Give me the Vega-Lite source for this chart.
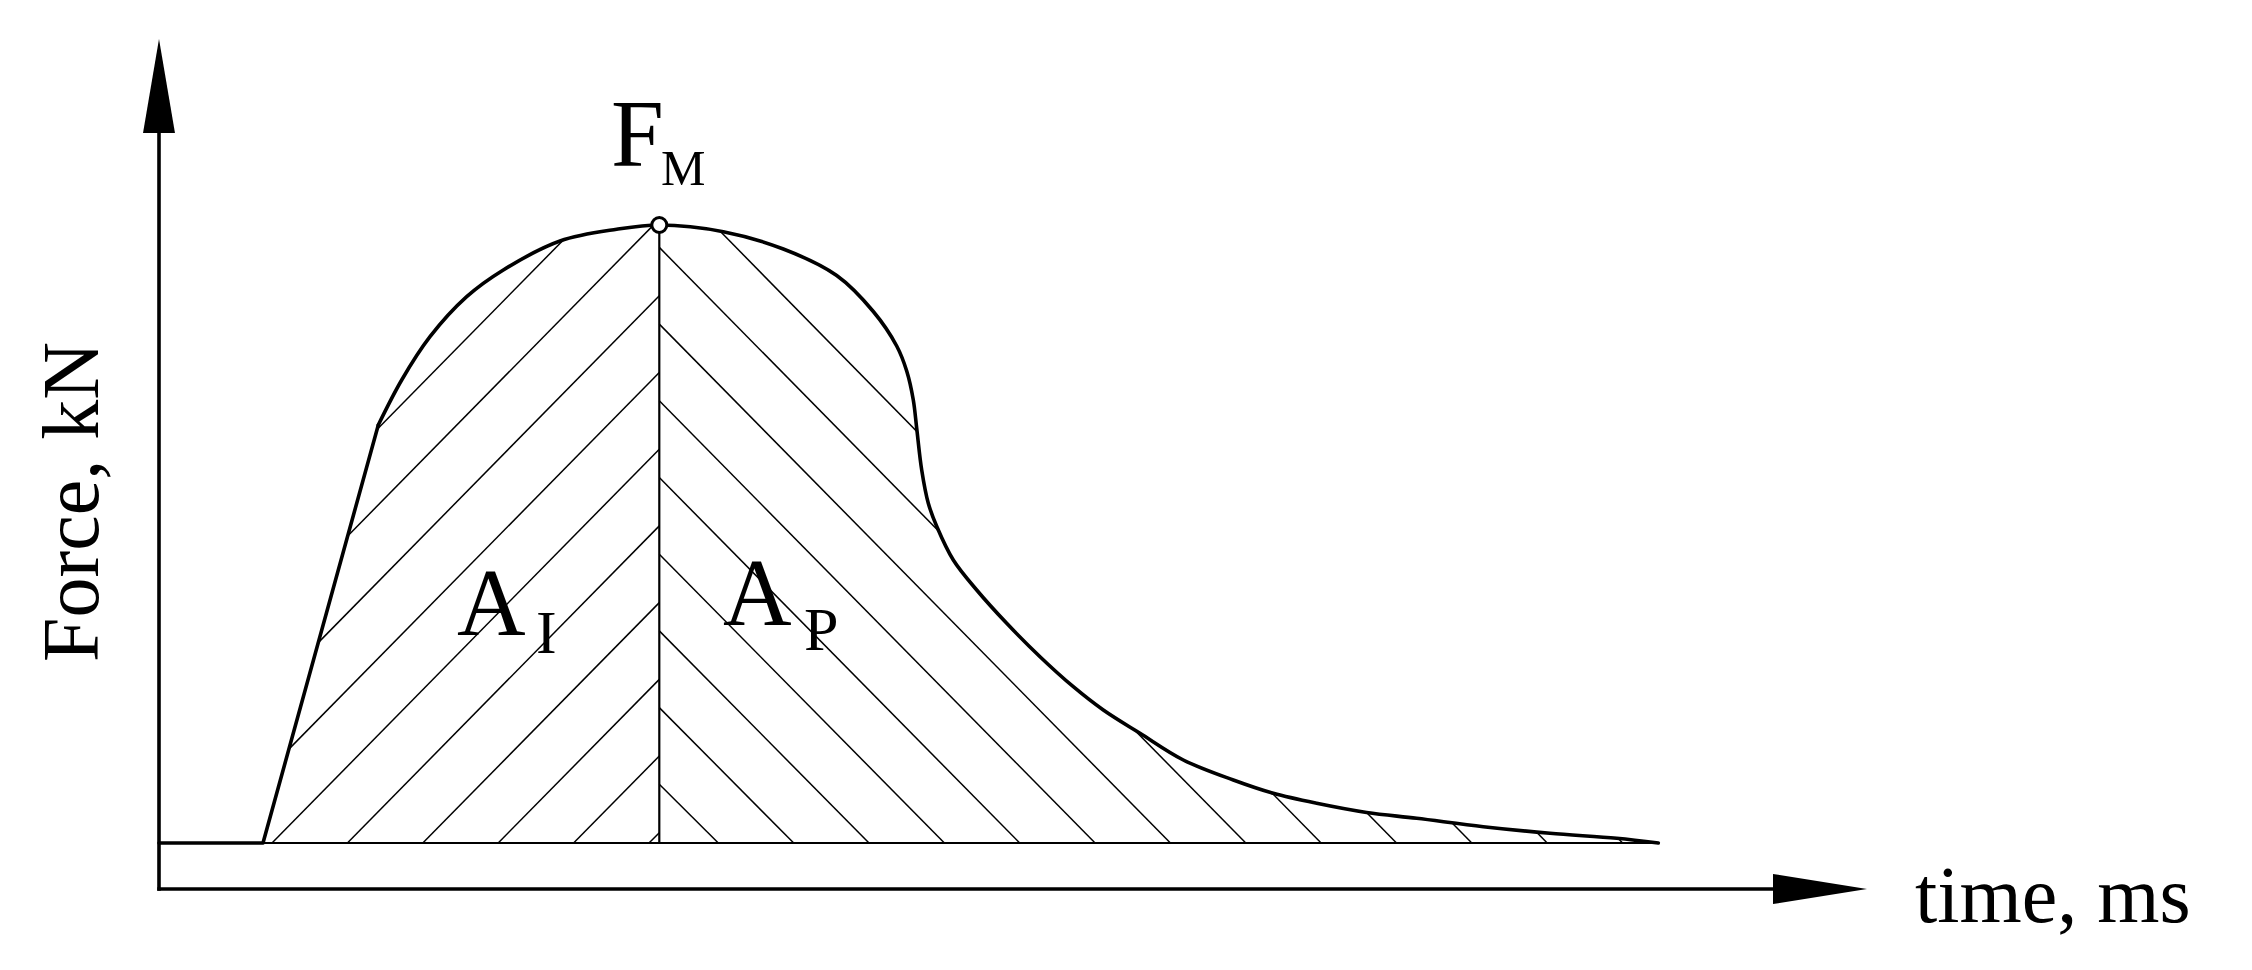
{
  "$schema": "https://vega.github.io/schema/vega-lite/v6.json",
  "width": 2252,
  "height": 970,
  "autosize": {"type": "none"},
  "padding": 0,
  "background": "white",
  "config": {"view": {"stroke": null}, "axis": {"disable": true}},
  "datasets": {
    "curveRise": [
      {"t": 0, "F": 4.6}, {"t": 10.4, "F": 4.6}, {"t": 21.93, "F": 46.4}
    ],
    "curveArc": [
      {"t": 21.93, "F": 46.4}, {"t": 24.27, "F": 50.9}, {"t": 27.1, "F": 55.23},
      {"t": 30.77, "F": 59.23}, {"t": 34.43, "F": 61.9}, {"t": 40.1, "F": 64.8}, {"t": 45.77, "F": 65.97},
      {"t": 50.03, "F": 66.4}, {"t": 56.43, "F": 65.73}, {"t": 62.43, "F": 64.0}, {"t": 67.77, "F": 61.35},
      {"t": 71.43, "F": 57.75}, {"t": 73.77, "F": 54.3}, {"t": 74.77, "F": 51.8}, {"t": 75.43, "F": 48.9},
      {"t": 75.77, "F": 46.07}, {"t": 76.27, "F": 41.9}, {"t": 76.93, "F": 38.57}, {"t": 77.8, "F": 36.2},
      {"t": 79.43, "F": 32.9}, {"t": 81.77, "F": 29.9}, {"t": 84.77, "F": 26.57}, {"t": 88.1, "F": 23.23},
      {"t": 91.43, "F": 20.23}, {"t": 94.43, "F": 17.9}, {"t": 98.1, "F": 15.57}, {"t": 102.43, "F": 12.9},
      {"t": 107.43, "F": 10.9}, {"t": 111.43, "F": 9.57}, {"t": 115.77, "F": 8.57}, {"t": 120.77, "F": 7.65},
      {"t": 125.77, "F": 7.07}, {"t": 132.43, "F": 6.23}, {"t": 139.1, "F": 5.57}, {"t": 145.77, "F": 5.07},
      {"t": 149.93, "F": 4.6}
    ],
    "hatch": [
      {"t1": 49.0, "F1": 4.6, "t2": 50.03, "F2": 5.63},
      {"t1": 41.46, "F1": 4.6, "t2": 50.03, "F2": 13.3},
      {"t1": 33.92, "F1": 4.6, "t2": 50.03, "F2": 20.96},
      {"t1": 26.38, "F1": 4.6, "t2": 50.03, "F2": 28.64},
      {"t1": 18.84, "F1": 4.6, "t2": 50.03, "F2": 36.31},
      {"t1": 11.3, "F1": 4.6, "t2": 50.03, "F2": 43.98},
      {"t1": 12.99, "F1": 13.99, "t2": 50.03, "F2": 51.65},
      {"t1": 15.93, "F1": 24.64, "t2": 50.03, "F2": 59.32},
      {"t1": 18.87, "F1": 35.3, "t2": 50.03, "F2": 66.99},
      {"t1": 21.8, "F1": 45.95, "t2": 50.03, "F2": 74.66},
      {"t1": 50.03, "F1": 10.47, "t2": 55.93, "F2": 4.6},
      {"t1": 50.03, "F1": 18.14, "t2": 63.47, "F2": 4.6},
      {"t1": 50.03, "F1": 25.81, "t2": 71.0, "F2": 4.6},
      {"t1": 50.03, "F1": 33.48, "t2": 78.54, "F2": 4.6},
      {"t1": 50.03, "F1": 41.15, "t2": 86.07, "F2": 4.6},
      {"t1": 50.03, "F1": 48.82, "t2": 93.61, "F2": 4.6},
      {"t1": 50.03, "F1": 56.49, "t2": 101.14, "F2": 4.6},
      {"t1": 50.03, "F1": 64.16, "t2": 108.68, "F2": 4.6},
      {"t1": 53.05, "F1": 68.9, "t2": 116.21, "F2": 4.6},
      {"t1": 60.6, "F1": 68.9, "t2": 123.75, "F2": 4.6},
      {"t1": 68.13, "F1": 68.9, "t2": 131.28, "F2": 4.6},
      {"t1": 75.67, "F1": 68.9, "t2": 138.82, "F2": 4.6},
      {"t1": 83.2, "F1": 68.9, "t2": 146.36, "F2": 4.6}
    ],
    "guides": [
      {"t1": 0, "F1": 4.6, "t2": 149.93, "F2": 4.6},
      {"t1": 50.03, "F1": 4.6, "t2": 50.03, "F2": 66.4}
    ],
    "axes": [
      {"t1": 0, "F1": -0.17, "t2": 0, "F2": 76.0},
      {"t1": -0.17, "F1": 0, "t2": 162.0, "F2": 0}
    ],
    "arrows": [
      {"dir": "up", "t": 0, "F": 80.3},
      {"dir": "right", "t": 166.1, "F": 0}
    ],
    "peak": [{"t": 50.03, "F": 66.4}],
    "big": [
      {"label": "F", "t": 45.2, "F": 72.3},
      {"label": "A", "t": 29.8, "F": 25.4},
      {"label": "A", "t": 56.4, "F": 26.4}
    ],
    "sub": [
      {"label": "I", "t": 37.7, "F": 23.6},
      {"label": "P", "t": 64.5, "F": 23.9}
    ],
    "subM": [{"label": "M", "t": 50.2, "F": 70.4}],
    "ytitle": [{"label": "Force, kN", "t": -6.1, "F": 38.7}],
    "xtitle": [{"label": "time, ms", "t": 175.6, "F": -3.27}]
  },
  "layer": [
    {
      "data": {"name": "hatch"},
      "mark": {"type": "rule", "color": "black", "strokeWidth": 1.5},
      "encoding": {
        "x": {"field": "t1", "type": "quantitative", "scale": {"domain": [-15.9, 209.3], "nice": false, "zero": false}, "axis": null},
        "y": {"field": "F1", "type": "quantitative", "scale": {"domain": [-8.1, 88.9], "nice": false, "zero": false}, "axis": null},
        "x2": {"field": "t2"},
        "y2": {"field": "F2"}
      }
    },
    {
      "data": {"name": "curveRise"},
      "mark": {"type": "area", "color": "white", "opacity": 1, "interpolate": "linear"},
      "encoding": {
        "x": {"field": "t", "type": "quantitative"},
        "y": {"field": "F", "type": "quantitative"},
        "y2": {"datum": 88.9}
      }
    },
    {
      "data": {"name": "curveArc"},
      "mark": {"type": "area", "color": "white", "opacity": 1, "interpolate": "catmull-rom"},
      "encoding": {
        "x": {"field": "t", "type": "quantitative"},
        "y": {"field": "F", "type": "quantitative"},
        "y2": {"datum": 88.9}
      }
    },
    {
      "data": {"name": "guides"},
      "mark": {"type": "rule", "color": "black", "strokeWidth": 2.2},
      "encoding": {
        "x": {"field": "t1", "type": "quantitative"},
        "y": {"field": "F1", "type": "quantitative"},
        "x2": {"field": "t2"},
        "y2": {"field": "F2"}
      }
    },
    {
      "data": {"name": "axes"},
      "mark": {"type": "rule", "color": "black", "strokeWidth": 3.6},
      "encoding": {
        "x": {"field": "t1", "type": "quantitative"},
        "y": {"field": "F1", "type": "quantitative"},
        "x2": {"field": "t2"},
        "y2": {"field": "F2"}
      }
    },
    {
      "data": {"name": "curveRise"},
      "mark": {"type": "line", "color": "black", "strokeWidth": 3.6, "interpolate": "linear", "strokeJoin": "round", "strokeCap": "round"},
      "encoding": {
        "x": {"field": "t", "type": "quantitative"},
        "y": {"field": "F", "type": "quantitative"}
      }
    },
    {
      "data": {"name": "curveArc"},
      "mark": {"type": "line", "color": "black", "strokeWidth": 3.6, "interpolate": "catmull-rom", "strokeJoin": "round", "strokeCap": "round"},
      "encoding": {
        "x": {"field": "t", "type": "quantitative"},
        "y": {"field": "F", "type": "quantitative"}
      }
    },
    {
      "data": {"name": "arrows"},
      "mark": {"type": "point", "filled": true, "color": "black", "opacity": 1, "size": 8836, "strokeWidth": 0},
      "encoding": {
        "x": {"field": "t", "type": "quantitative"},
        "y": {"field": "F", "type": "quantitative"},
        "shape": {"field": "dir", "type": "nominal", "scale": {"domain": ["up", "right"], "range": ["M0,-1L0.34,1L-0.34,1Z", "M1,0L-1,-0.32L-1,0.32Z"]}, "legend": null}
      }
    },
    {
      "data": {"name": "peak"},
      "mark": {"type": "point", "shape": "circle", "filled": true, "fill": "white", "stroke": "black", "strokeWidth": 3, "size": 225, "opacity": 1},
      "encoding": {
        "x": {"field": "t", "type": "quantitative"},
        "y": {"field": "F", "type": "quantitative"}
      }
    },
    {
      "data": {"name": "big"},
      "mark": {"type": "text", "font": "Liberation Serif", "fontSize": 95, "align": "left", "baseline": "alphabetic", "color": "black"},
      "encoding": {
        "x": {"field": "t", "type": "quantitative"},
        "y": {"field": "F", "type": "quantitative"},
        "text": {"field": "label"}
      }
    },
    {
      "data": {"name": "sub"},
      "mark": {"type": "text", "font": "Liberation Serif", "fontSize": 62, "align": "left", "baseline": "alphabetic", "color": "black"},
      "encoding": {
        "x": {"field": "t", "type": "quantitative"},
        "y": {"field": "F", "type": "quantitative"},
        "text": {"field": "label"}
      }
    },
    {
      "data": {"name": "subM"},
      "mark": {"type": "text", "font": "Liberation Serif", "fontSize": 50, "align": "left", "baseline": "alphabetic", "color": "black"},
      "encoding": {
        "x": {"field": "t", "type": "quantitative"},
        "y": {"field": "F", "type": "quantitative"},
        "text": {"field": "label"}
      }
    },
    {
      "data": {"name": "ytitle"},
      "mark": {"type": "text", "font": "Liberation Serif", "fontSize": 80, "angle": 270, "align": "center", "baseline": "alphabetic", "color": "black"},
      "encoding": {
        "x": {"field": "t", "type": "quantitative"},
        "y": {"field": "F", "type": "quantitative"},
        "text": {"field": "label"}
      }
    },
    {
      "data": {"name": "xtitle"},
      "mark": {"type": "text", "font": "Liberation Serif", "fontSize": 80, "align": "left", "baseline": "alphabetic", "color": "black"},
      "encoding": {
        "x": {"field": "t", "type": "quantitative"},
        "y": {"field": "F", "type": "quantitative"},
        "text": {"field": "label"}
      }
    }
  ]
}
